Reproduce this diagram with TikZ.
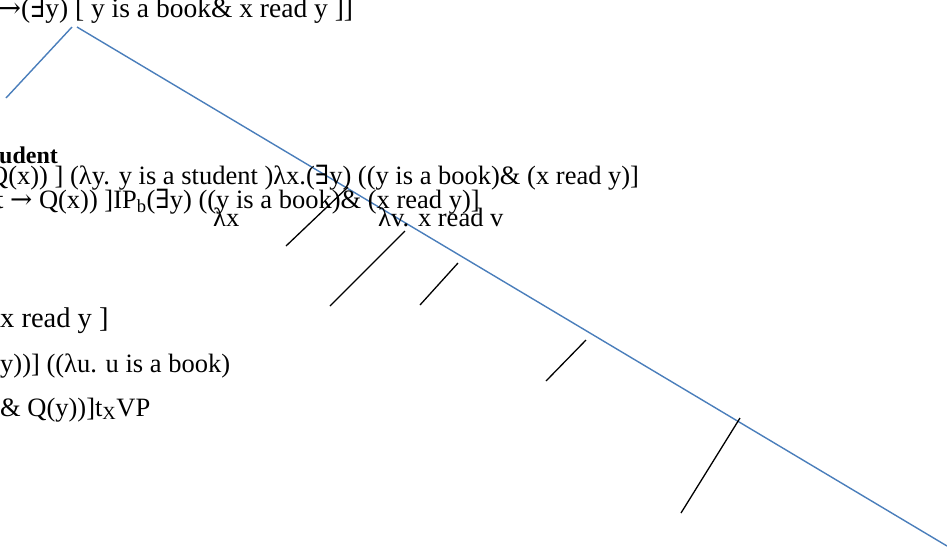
\documentclass[tikz,border=0pt]{standalone}
\usepackage{fontspec}
\setmainfont{Liberation Serif}
\newfontfamily\symfnt{DejaVu Serif}
\usetikzlibrary{positioning}
\definecolor{branch}{HTML}{4A7EBB}
\newcommand{\exq}{{\symfnt ∃}}
\newcommand{\arq}{{\symfnt →}}

\begin{document}
\begin{tikzpicture}[x=1pt, y=-1pt,
      every node/.style={font=\fontsize{26.5}{32}\selectfont, inner sep=0pt, anchor=base west},
      big/.style={font=\fontsize{28.5}{34}\selectfont},
      bluebranch/.style={branch, line width=1.4pt},
      tick/.style={black, line width=1.3pt}
  ]
    \useasboundingbox (0,0) rectangle (947,550);

    % ---- Top formula ----
    \node[font=\fontsize{27.5}{33}\selectfont] (top) at (-2,17) {\arq(\exq y) [ y is a book\& x read y ]]};

    % ---- Blue branches ----
    \coordinate (apexL) at (72,27);
    \coordinate (apexR) at (77,27);
    \coordinate (leafL) at (6,98);
    \coordinate (leafR) at (947,546);
    \draw[bluebranch] (apexL) -- (leafL);
    \draw[bluebranch] (apexR) -- (leafR);

    % ---- Subject lines ----
    \node[font=\fontsize{24}{30}\selectfont\bfseries] (subj) at (-1,163) {udent};
    \node (subjA) at (-11,184) {Q(x)) ] (λy. y is a student )λx.(\exq y) ((y is a book)\& (x read y)]};
    \node (subjB) at (-4,208) {t \arq\ Q(x)) ]IP\textsubscript{b}(\exq y) ((y is a book)\& (x read y)]};
    \node (lamx) at (213,226) {λx};
    \node (lamv) at (378,226) {λv. x read v};

    % ---- Object lines ----
    \node[big] (objA) at (0,327) {x read y ]};
    \node (objB) at (0,372) {y))] ((λu. u is a book)};
    \node (objC) at (0,416) {\& Q(y))]t\textsubscript{X}VP};

    % ---- Black ticks ----
    \foreach \i/\xa/\ya/\xb/\yb in {1/286/246/348/187, 2/330/306/405/231,
        3/420/305/458/263, 4/546/381/586/340, 5/681/513/740/418} {
      \coordinate (tk\i lo) at (\xa,\ya);
      \coordinate (tk\i hi) at (\xb,\yb);
      \draw[tick] (tk\i lo) -- (tk\i hi);
    }

\end{tikzpicture}
\end{document}
